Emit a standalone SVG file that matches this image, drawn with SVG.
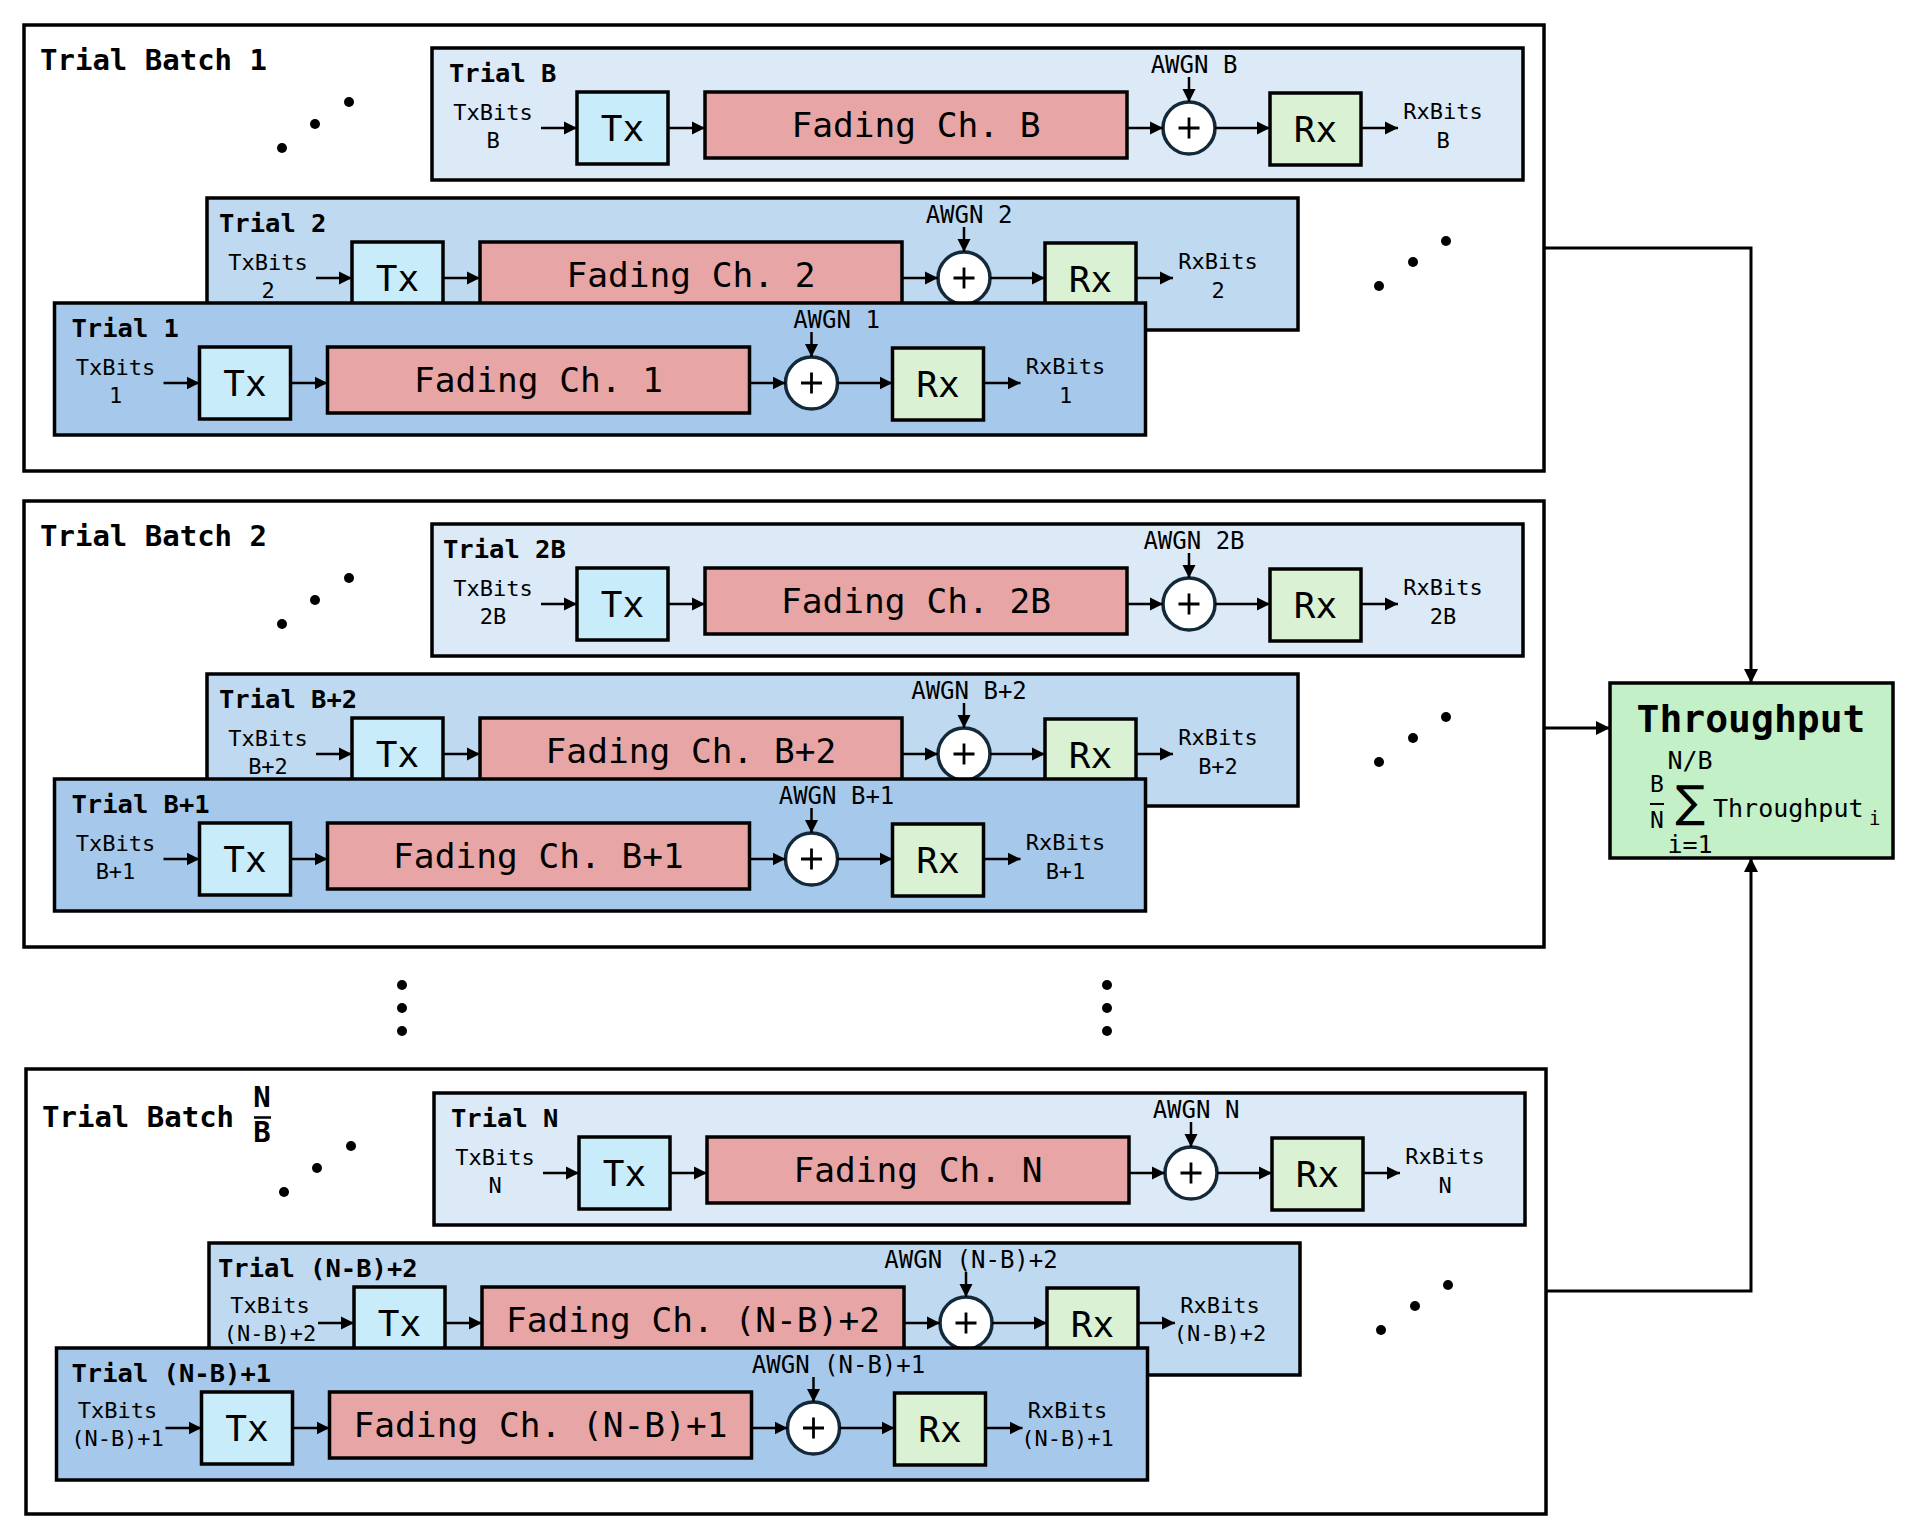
<svg xmlns="http://www.w3.org/2000/svg" width="1913" height="1538" viewBox="0 0 1913 1538">
<style>
text{font-family:"DejaVu Sans Mono","Liberation Mono",monospace;fill:#000}
.batch{fill:#fff;stroke:#000;stroke-width:3.5}
.box{stroke:#000;stroke-width:3.5}
.tb{fill:#dce9f6}.t2{fill:#bed9f0}.t1{fill:#a6c9eb}
.blk{stroke:#000;stroke-width:3.5}
.tx{fill:#c9ecfb}.fd{fill:#e8a5a5}.rx{fill:#daf2d3}
.add{fill:#fff;stroke:#13293a;stroke-width:3.5}
.plus{stroke:#000;stroke-width:2.8;fill:none}
.ttl{font-weight:bold;font-size:29px}
.tl{font-weight:bold;font-size:25.5px}
.bits{font-size:22px;text-anchor:middle}
.awgn{font-size:24px;text-anchor:middle}
.big{font-size:36px;text-anchor:middle}
.fad{font-size:34.5px;text-anchor:middle}
.ar{stroke:#000;stroke-width:2.5;fill:none;marker-end:url(#ah)}
.arb{stroke:#000;stroke-width:3;fill:none;marker-end:url(#ahb)}
.dot{fill:#000}
</style>
<defs>
<marker id="ah" markerUnits="userSpaceOnUse" markerWidth="14" markerHeight="14" refX="13" refY="7" orient="auto"><path d="M0,0.5 L13,7 L0,13.5z" fill="#000"/></marker>
<marker id="ahb" markerUnits="userSpaceOnUse" markerWidth="15" markerHeight="15" refX="14" refY="7.5" orient="auto"><path d="M0,0.5 L14,7.5 L0,14.5z" fill="#000"/></marker>
</defs>

<!-- ============ BATCH 1 ============ -->
<g id="batch-1">
<rect class="batch" x="24" y="25" width="1520" height="446"/>
<text class="ttl" x="40" y="70">Trial Batch 1</text>
<circle class="dot" cx="282" cy="148" r="5"/><circle class="dot" cx="315" cy="124" r="5"/><circle class="dot" cx="349" cy="102" r="5"/>
<circle class="dot" cx="1379" cy="286" r="5"/><circle class="dot" cx="1413" cy="262" r="5"/><circle class="dot" cx="1446" cy="241" r="5"/>
</g>
<g id="trial-B">
<rect class="box tb" x="432" y="48" width="1091" height="132"/>
<text class="tl" x="449" y="82">Trial B</text>
<text class="bits" x="493" y="120">TxBits</text><text class="bits" x="493" y="148">B</text>
<g id="trial-B-tx"><rect class="blk tx" x="577" y="92" width="91" height="72"/><text class="big" x="622.5" y="141">Tx</text></g>
<g id="trial-B-ch"><rect class="blk fd" x="705" y="92" width="422" height="66"/><text class="fad" x="916" y="137">Fading Ch. B</text></g>
<text class="awgn" x="1194" y="73">AWGN B</text>
<g id="trial-B-add"><circle class="add" cx="1189" cy="128" r="26"/><path class="plus" d="M1178.5 128H1199.5M1189 117.5V138.5"/></g>
<g id="trial-B-rx"><rect class="blk rx" x="1270" y="93" width="91" height="72"/><text class="big" x="1315.5" y="142">Rx</text></g>
<text class="bits" x="1443" y="119">RxBits</text><text class="bits" x="1443" y="148">B</text>
</g>
<g id="trial-2" transform="translate(-225,150)">
<rect class="box t2" x="432" y="48" width="1091" height="132"/>
<text class="tl" x="444" y="82">Trial 2</text>
<text class="bits" x="493" y="120">TxBits</text><text class="bits" x="493" y="148">2</text>
<g id="trial-2-tx"><rect class="blk tx" x="577" y="92" width="91" height="72"/><text class="big" x="622.5" y="141">Tx</text></g>
<g id="trial-2-ch"><rect class="blk fd" x="705" y="92" width="422" height="66"/><text class="fad" x="916" y="137">Fading Ch. 2</text></g>
<text class="awgn" x="1194" y="73">AWGN 2</text>
<g id="trial-2-add"><circle class="add" cx="1189" cy="128" r="26"/><path class="plus" d="M1178.5 128H1199.5M1189 117.5V138.5"/></g>
<g id="trial-2-rx"><rect class="blk rx" x="1270" y="93" width="91" height="72"/><text class="big" x="1315.5" y="142">Rx</text></g>
<text class="bits" x="1443" y="119">RxBits</text><text class="bits" x="1443" y="148">2</text>
</g>
<g id="trial-1" transform="translate(-377.5,255)">
<rect class="box t1" x="432" y="48" width="1091" height="132"/>
<text class="tl" x="449" y="82">Trial 1</text>
<text class="bits" x="493" y="120">TxBits</text><text class="bits" x="493" y="148">1</text>
<g id="trial-1-tx"><rect class="blk tx" x="577" y="92" width="91" height="72"/><text class="big" x="622.5" y="141">Tx</text></g>
<g id="trial-1-ch"><rect class="blk fd" x="705" y="92" width="422" height="66"/><text class="fad" x="916" y="137">Fading Ch. 1</text></g>
<text class="awgn" x="1214" y="73">AWGN 1</text>
<g id="trial-1-add"><circle class="add" cx="1189" cy="128" r="26"/><path class="plus" d="M1178.5 128H1199.5M1189 117.5V138.5"/></g>
<g id="trial-1-rx"><rect class="blk rx" x="1270" y="93" width="91" height="72"/><text class="big" x="1315.5" y="142">Rx</text></g>
<text class="bits" x="1443" y="119">RxBits</text><text class="bits" x="1443" y="148">1</text>
</g>

<!-- ============ BATCH 2 ============ -->
<g id="batch-2">
<rect class="batch" x="24" y="501" width="1520" height="446"/>
<text class="ttl" x="40" y="546">Trial Batch 2</text>
<circle class="dot" cx="282" cy="624" r="5"/><circle class="dot" cx="315" cy="600" r="5"/><circle class="dot" cx="349" cy="578" r="5"/>
<circle class="dot" cx="1379" cy="762" r="5"/><circle class="dot" cx="1413" cy="738" r="5"/><circle class="dot" cx="1446" cy="717" r="5"/>
</g>
<g id="trial-2B" transform="translate(0,476)">
<rect class="box tb" x="432" y="48" width="1091" height="132"/>
<text class="tl" x="443" y="82">Trial 2B</text>
<text class="bits" x="493" y="120">TxBits</text><text class="bits" x="493" y="148">2B</text>
<g id="trial-2B-tx"><rect class="blk tx" x="577" y="92" width="91" height="72"/><text class="big" x="622.5" y="141">Tx</text></g>
<g id="trial-2B-ch"><rect class="blk fd" x="705" y="92" width="422" height="66"/><text class="fad" x="916" y="137">Fading Ch. 2B</text></g>
<text class="awgn" x="1194" y="73">AWGN 2B</text>
<g id="trial-2B-add"><circle class="add" cx="1189" cy="128" r="26"/><path class="plus" d="M1178.5 128H1199.5M1189 117.5V138.5"/></g>
<g id="trial-2B-rx"><rect class="blk rx" x="1270" y="93" width="91" height="72"/><text class="big" x="1315.5" y="142">Rx</text></g>
<text class="bits" x="1443" y="119">RxBits</text><text class="bits" x="1443" y="148">2B</text>
</g>
<g id="trial-B2" transform="translate(-225,626)">
<rect class="box t2" x="432" y="48" width="1091" height="132"/>
<text class="tl" x="444" y="82">Trial B+2</text>
<text class="bits" x="493" y="120">TxBits</text><text class="bits" x="493" y="148">B+2</text>
<g id="trial-B2-tx"><rect class="blk tx" x="577" y="92" width="91" height="72"/><text class="big" x="622.5" y="141">Tx</text></g>
<g id="trial-B2-ch"><rect class="blk fd" x="705" y="92" width="422" height="66"/><text class="fad" x="916" y="137">Fading Ch. B+2</text></g>
<text class="awgn" x="1194" y="73">AWGN B+2</text>
<g id="trial-B2-add"><circle class="add" cx="1189" cy="128" r="26"/><path class="plus" d="M1178.5 128H1199.5M1189 117.5V138.5"/></g>
<g id="trial-B2-rx"><rect class="blk rx" x="1270" y="93" width="91" height="72"/><text class="big" x="1315.5" y="142">Rx</text></g>
<text class="bits" x="1443" y="119">RxBits</text><text class="bits" x="1443" y="148">B+2</text>
</g>
<g id="trial-B1" transform="translate(-377.5,731)">
<rect class="box t1" x="432" y="48" width="1091" height="132"/>
<text class="tl" x="449" y="82">Trial B+1</text>
<text class="bits" x="493" y="120">TxBits</text><text class="bits" x="493" y="148">B+1</text>
<g id="trial-B1-tx"><rect class="blk tx" x="577" y="92" width="91" height="72"/><text class="big" x="622.5" y="141">Tx</text></g>
<g id="trial-B1-ch"><rect class="blk fd" x="705" y="92" width="422" height="66"/><text class="fad" x="916" y="137">Fading Ch. B+1</text></g>
<text class="awgn" x="1214" y="73">AWGN B+1</text>
<g id="trial-B1-add"><circle class="add" cx="1189" cy="128" r="26"/><path class="plus" d="M1178.5 128H1199.5M1189 117.5V138.5"/></g>
<g id="trial-B1-rx"><rect class="blk rx" x="1270" y="93" width="91" height="72"/><text class="big" x="1315.5" y="142">Rx</text></g>
<text class="bits" x="1443" y="119">RxBits</text><text class="bits" x="1443" y="148">B+1</text>
</g>

<!-- vertical ellipsis -->
<g id="ellipsis">
<circle class="dot" cx="402" cy="985" r="5"/><circle class="dot" cx="402" cy="1008" r="5"/><circle class="dot" cx="402" cy="1031" r="5"/>
<circle class="dot" cx="1107" cy="985" r="5"/><circle class="dot" cx="1107" cy="1008" r="5"/><circle class="dot" cx="1107" cy="1031" r="5"/>
</g>

<!-- ============ BATCH N/B ============ -->
<g id="batch-NB">
<rect class="batch" x="26" y="1069" width="1520" height="445"/>
<text class="ttl" x="42" y="1127">Trial Batch</text>
<text class="ttl" x="262" y="1107" text-anchor="middle" font-size="26">N</text>
<line x1="254" y1="1117.5" x2="271" y2="1117.5" stroke="#000" stroke-width="2.5"/>
<text class="ttl" x="262" y="1142" text-anchor="middle" font-size="26">B</text>
<circle class="dot" cx="284" cy="1192" r="5"/><circle class="dot" cx="317" cy="1168" r="5"/><circle class="dot" cx="351" cy="1146" r="5"/>
<circle class="dot" cx="1381" cy="1330" r="5"/><circle class="dot" cx="1415" cy="1306" r="5"/><circle class="dot" cx="1448" cy="1285" r="5"/>
</g>
<g id="trial-N" transform="translate(2,1045)">
<rect class="box tb" x="432" y="48" width="1091" height="132"/>
<text class="tl" x="449" y="82">Trial N</text>
<text class="bits" x="493" y="120">TxBits</text><text class="bits" x="493" y="148">N</text>
<g id="trial-N-tx"><rect class="blk tx" x="577" y="92" width="91" height="72"/><text class="big" x="622.5" y="141">Tx</text></g>
<g id="trial-N-ch"><rect class="blk fd" x="705" y="92" width="422" height="66"/><text class="fad" x="916" y="137">Fading Ch. N</text></g>
<text class="awgn" x="1194" y="73">AWGN N</text>
<g id="trial-N-add"><circle class="add" cx="1189" cy="128" r="26"/><path class="plus" d="M1178.5 128H1199.5M1189 117.5V138.5"/></g>
<g id="trial-N-rx"><rect class="blk rx" x="1270" y="93" width="91" height="72"/><text class="big" x="1315.5" y="142">Rx</text></g>
<text class="bits" x="1443" y="119">RxBits</text><text class="bits" x="1443" y="148">N</text>
</g>
<g id="trial-NB2" transform="translate(-223,1195)">
<rect class="box t2" x="432" y="48" width="1091" height="132"/>
<text class="tl" x="441" y="82">Trial (N-B)+2</text>
<text class="bits" x="493" y="118">TxBits</text><text class="bits" x="493" y="146">(N-B)+2</text>
<g id="trial-NB2-tx"><rect class="blk tx" x="577" y="92" width="91" height="72"/><text class="big" x="622.5" y="141">Tx</text></g>
<g id="trial-NB2-ch"><rect class="blk fd" x="705" y="92" width="422" height="66"/><text class="fad" x="916" y="137">Fading Ch. (N-B)+2</text></g>
<text class="awgn" x="1194" y="73">AWGN (N-B)+2</text>
<g id="trial-NB2-add"><circle class="add" cx="1189" cy="128" r="26"/><path class="plus" d="M1178.5 128H1199.5M1189 117.5V138.5"/></g>
<g id="trial-NB2-rx"><rect class="blk rx" x="1270" y="93" width="91" height="72"/><text class="big" x="1315.5" y="142">Rx</text></g>
<text class="bits" x="1443" y="118">RxBits</text><text class="bits" x="1443" y="146">(N-B)+2</text>
</g>
<g id="trial-NB1" transform="translate(-375.5,1300)">
<rect class="box t1" x="432" y="48" width="1091" height="132"/>
<text class="tl" x="447" y="82">Trial (N-B)+1</text>
<text class="bits" x="493" y="118">TxBits</text><text class="bits" x="493" y="146">(N-B)+1</text>
<g id="trial-NB1-tx"><rect class="blk tx" x="577" y="92" width="91" height="72"/><text class="big" x="622.5" y="141">Tx</text></g>
<g id="trial-NB1-ch"><rect class="blk fd" x="705" y="92" width="422" height="66"/><text class="fad" x="916" y="137">Fading Ch. (N-B)+1</text></g>
<text class="awgn" x="1214" y="73">AWGN (N-B)+1</text>
<g id="trial-NB1-add"><circle class="add" cx="1189" cy="128" r="26"/><path class="plus" d="M1178.5 128H1199.5M1189 117.5V138.5"/></g>
<g id="trial-NB1-rx"><rect class="blk rx" x="1270" y="93" width="91" height="72"/><text class="big" x="1315.5" y="142">Rx</text></g>
<text class="bits" x="1443" y="118">RxBits</text><text class="bits" x="1443" y="146">(N-B)+1</text>
</g>

<!-- ============ THROUGHPUT ============ -->
<g id="throughput">
<rect x="1610" y="683" width="283" height="175" fill="#c3f0c7" stroke="#000" stroke-width="3.5"/>
<text x="1751" y="732" font-size="38" font-weight="bold" text-anchor="middle">Throughput</text>
<text x="1657" y="792" font-size="23" text-anchor="middle">B</text>
<line x1="1650" y1="804" x2="1664" y2="804" stroke="#000" stroke-width="2"/>
<text x="1657" y="828" font-size="23" text-anchor="middle">N</text>
<text x="1690" y="769" font-size="25" text-anchor="middle">N/B</text>
<text x="1690" y="817" font-size="44" text-anchor="middle" style="font-family:'DejaVu Sans',sans-serif">∑</text>
<text x="1690" y="853" font-size="25" text-anchor="middle">i=1</text>
<text x="1713" y="817" font-size="25">Throughput</text>
<text x="1869" y="825" font-size="19">i</text>
</g>

<!-- ============ CONNECTORS ============ -->
<g id="connectors">
<g id="conn-b1-B"><path class="ar" d="M541 128H577"/><path class="ar" d="M668 128H705"/><path class="ar" d="M1127 128H1163"/><path class="ar" d="M1189 77V102"/><path class="ar" d="M1215 128H1270"/><path class="ar" d="M1361 128H1398"/></g>
<g id="conn-b1-2" transform="translate(-225,150)"><path class="ar" d="M541 128H577"/><path class="ar" d="M668 128H705"/><path class="ar" d="M1127 128H1163"/><path class="ar" d="M1189 77V102"/><path class="ar" d="M1215 128H1270"/><path class="ar" d="M1361 128H1398"/></g>
<g id="conn-b1-1" transform="translate(-377.5,255)"><path class="ar" d="M541 128H577"/><path class="ar" d="M668 128H705"/><path class="ar" d="M1127 128H1163"/><path class="ar" d="M1189 77V102"/><path class="ar" d="M1215 128H1270"/><path class="ar" d="M1361 128H1398"/></g>
<g id="conn-b2-2B" transform="translate(0,476)"><path class="ar" d="M541 128H577"/><path class="ar" d="M668 128H705"/><path class="ar" d="M1127 128H1163"/><path class="ar" d="M1189 77V102"/><path class="ar" d="M1215 128H1270"/><path class="ar" d="M1361 128H1398"/></g>
<g id="conn-b2-B2" transform="translate(-225,626)"><path class="ar" d="M541 128H577"/><path class="ar" d="M668 128H705"/><path class="ar" d="M1127 128H1163"/><path class="ar" d="M1189 77V102"/><path class="ar" d="M1215 128H1270"/><path class="ar" d="M1361 128H1398"/></g>
<g id="conn-b2-B1" transform="translate(-377.5,731)"><path class="ar" d="M541 128H577"/><path class="ar" d="M668 128H705"/><path class="ar" d="M1127 128H1163"/><path class="ar" d="M1189 77V102"/><path class="ar" d="M1215 128H1270"/><path class="ar" d="M1361 128H1398"/></g>
<g id="conn-bN-N" transform="translate(2,1045)"><path class="ar" d="M541 128H577"/><path class="ar" d="M668 128H705"/><path class="ar" d="M1127 128H1163"/><path class="ar" d="M1189 77V102"/><path class="ar" d="M1215 128H1270"/><path class="ar" d="M1361 128H1398"/></g>
<g id="conn-bN-NB2" transform="translate(-223,1195)"><path class="ar" d="M541 128H577"/><path class="ar" d="M668 128H705"/><path class="ar" d="M1127 128H1163"/><path class="ar" d="M1189 77V102"/><path class="ar" d="M1215 128H1270"/><path class="ar" d="M1361 128H1398"/></g>
<g id="conn-bN-NB1" transform="translate(-375.5,1300)"><path class="ar" d="M541 128H577"/><path class="ar" d="M668 128H705"/><path class="ar" d="M1127 128H1163"/><path class="ar" d="M1189 77V102"/><path class="ar" d="M1215 128H1270"/><path class="ar" d="M1361 128H1398"/></g>
<path class="arb" d="M1544 248H1751V683"/>
<path class="arb" d="M1544 728H1610"/>
<path class="arb" d="M1546 1291H1751V858"/>
</g>
</svg>
